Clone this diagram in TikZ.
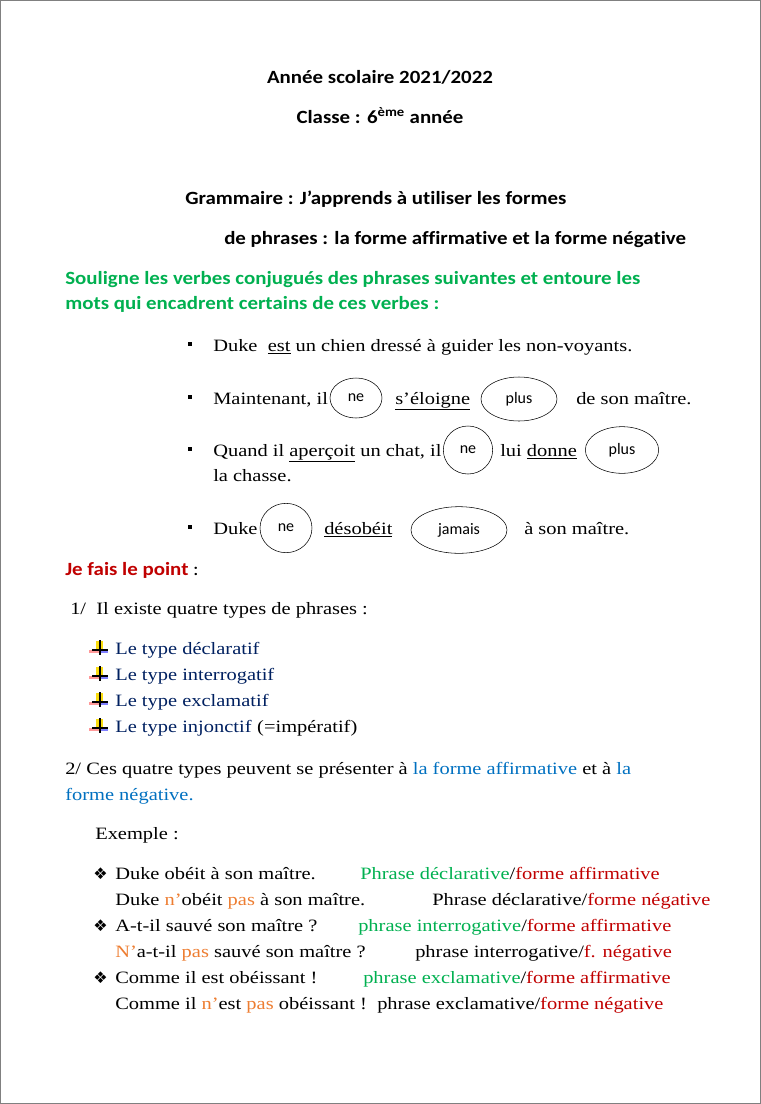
\documentclass[tikz,border=0pt]{standalone}
\usepackage{fontspec}
\setmainfont{Liberation Serif}[FakeStretch=1.18]
\newfontfamily\calib{Carlito}[FakeStretch=1.12,Ligatures=NoCommon]
\newfontfamily\calibr{Carlito}
\newfontfamily\dejavu{DejaVu Sans}
\usetikzlibrary{shapes.geometric}
\definecolor{vert}{RGB}{0,176,80}
\definecolor{rouge}{RGB}{192,0,0}
\definecolor{marine}{RGB}{0,32,96}
\definecolor{bleu}{RGB}{0,112,192}
\definecolor{orange}{RGB}{237,125,49}
\newcommand{\diam}{{\dejavu\fontsize{12}{14}\selectfont\char"2756}}

\begin{document}
\begin{tikzpicture}
            [x=0.75pt,y=-0.75pt,
            line/.style={anchor=base west,inner sep=0pt,font=\fontsize{13}{15}\selectfont},
            titre/.style={anchor=base,inner sep=0pt,font=\calib\bfseries\fontsize{14}{16}\selectfont},
            rond/.style={draw,ellipse,inner sep=0pt,font=\calibr\fontsize{12}{14}\selectfont},
            ]
            \useasboundingbox (0,0) rectangle (761,1104);
            % Page
            \draw[gray,line width=.6pt] (0.5,0.5) rectangle (760.5,1103.5);

            % Heading
            \node[titre] (annee) at (380,83) {Année scolaire 2021/2022};
            \node[titre] (classe) at (380,123) {Classe : 6\textsuperscript{ème} année};
            \node[titre,anchor=base west] (gram) at (185,204) {Grammaire : J’apprends à utiliser les formes};
            \node[titre,anchor=base west] (phr) at (224,244) {de phrases : la forme affirmative et la forme négative};

            % Consigne
            \node[titre,anchor=base west,text=vert] (cons1) at (65,284) {Souligne les verbes conjugués des phrases suivantes et entoure les};
            \node[titre,anchor=base west,text=vert] (cons2) at (65,309) {mots qui encadrent certains de ces verbes :};

            % Phrases
            \foreach \y in {351,404,456,534}
                \fill (188,\y-9) rectangle (192,\y-5);
            \node[line] (p1) at (213,351) {Duke \ \underline{est} un chien dressé à guider les non-voyants.};
            \node[line] (p2a) at (213,404) {Maintenant, il};
            \node[line] (p2b) at (395,404) {\underline{s’éloigne}};
            \node[line] (p2c) at (576,404) {de son maître.};
            \node[line] (p3a) at (213,456) {Quand il \underline{aperçoit} un chat, il};
            \node[line] (p3b) at (500,456) {lui \underline{donne}};
            \node[line] (p3c) at (213,481) {la chasse.};
            \node[line] (p4a) at (213,534) {Duke};
            \node[line] (p4b) at (324,534) {\underline{désobéit}};
            \node[line] (p4c) at (524,534) {à son maître.};

            % Circled words
            \node[rond,minimum width=39pt,minimum height=30pt] (ne1) at (356,398) {ne};
            \node[rond,minimum width=57pt,minimum height=33pt] (plus1) at (519,399) {plus};
            \node[rond,minimum width=37pt,minimum height=36pt] (ne2) at (468,450) {ne};
            \node[rond,minimum width=55pt,minimum height=35pt] (plus2) at (622,450) {plus};
            \node[rond,minimum width=39pt,minimum height=37pt] (ne3) at (286,528) {ne};
            \node[rond,minimum width=72pt,minimum height=35pt] (jamais) at (459,530) {jamais};

            % Je fais le point
            \node[line,font=\calib\fontsize{14}{16}\selectfont] (point) at (65,575) {\textcolor{rouge}{\bfseries Je fais le point} :};
            \node[line] (types) at (70,614) {1/\ \ Il existe quatre types de phrases :};
            \foreach \t [count=\i] in {déclaratif,interrogatif,exclamatif,injonctif}
            {
                \pgfmathsetmacro{\yy}{654+26*(\i-1)}
                \fill[red!40] (89,\yy-4) rectangle (99,\yy-1);
                \fill[yellow!80!orange] (96,\yy-13) rectangle (103,\yy-5);
                \fill[blue!50] (99,\yy-4) rectangle (108,\yy-1);
                \draw[black,line width=.8pt] (100,\yy-14) -- (100,\yy+1) (92,\yy-4) -- (108,\yy-4);
                \node[line,text=marine] (type\i) at (115,\yy) {Le type \t};
            }
            \node[line,anchor=base west] (imp) at (type4.base east) {\ (=impératif)};

            % Formes
            \node[line] (f1) at (65,774) {2/ Ces quatre types peuvent se présenter à \textcolor{bleu}{la forme affirmative} et à \textcolor{bleu}{la}};
            \node[line,text=bleu] (f2) at (65,800) {forme négative.};
            \node[line] (ex) at (95,839) {Exemple :};

            % Exemples
            \foreach \y in {879,931,983}
                \node[line] at (93,\y) {\diam};
            \node[line] (e1) at (115,879) {Duke obéit à son maître.};
            \node[line] (e1b) at (360,879) {\textcolor{vert}{Phrase déclarative}/\textcolor{rouge}{forme affirmative}};
            \node[line] (e2) at (115,905) {Duke \textcolor{orange}{n’}obéit \textcolor{orange}{pas} à son maître.};
            \node[line] (e2b) at (432,905) {Phrase déclarative/\textcolor{rouge}{forme négative}};
            \node[line] (e3) at (115,931) {A-t-il sauvé son maître ?};
            \node[line] (e3b) at (358,931) {\textcolor{vert}{phrase interrogative}/\textcolor{rouge}{forme affirmative}};
            \node[line] (e4) at (115,957) {\textcolor{orange}{N’}a-t-il \textcolor{orange}{pas} sauvé son maître ?};
            \node[line] (e4b) at (415,957) {phrase interrogative/\textcolor{rouge}{f. négative}};
            \node[line] (e5) at (115,983) {Comme il est obéissant !};
            \node[line] (e5b) at (363,983) {\textcolor{vert}{phrase exclamative}/\textcolor{rouge}{forme affirmative}};
            \node[line] (e6) at (115,1009) {Comme il \textcolor{orange}{n’}est \textcolor{orange}{pas} obéissant !};
            \node[line] (e6b) at (377,1009) {phrase exclamative/\textcolor{rouge}{forme négative}};
\end{tikzpicture}
\end{document}
